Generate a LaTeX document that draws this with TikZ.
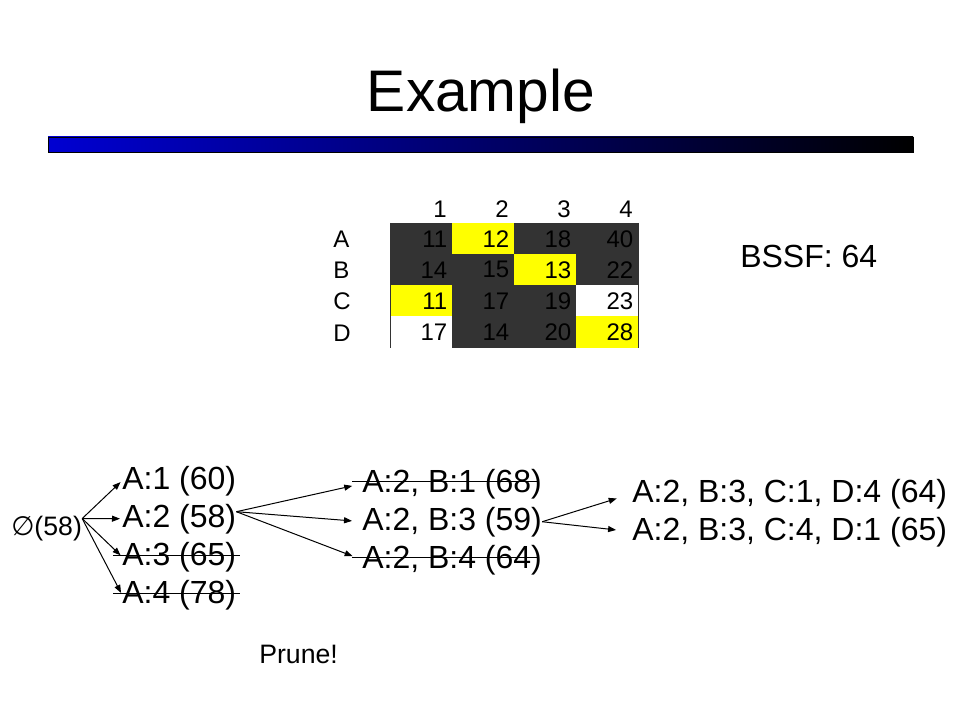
\documentclass[tikz,border=0pt]{standalone}
\usepackage{fontspec}
\setmainfont{Liberation Sans}
\newfontfamily\symbolfont{DejaVu Sans}
\usetikzlibrary{arrows.meta}
\definecolor{celldark}{RGB}{51,51,51}
\definecolor{cellyellow}{RGB}{255,255,0}
\definecolor{barblue}{RGB}{0,0,210}
\definecolor{barmid}{RGB}{0,0,135}

\begin{document}
\begin{tikzpicture}[
	x=0.75pt,
	y=-0.75pt,
	font=\fontsize{24}{28}\selectfont,
	title/.style={anchor=base, inner sep=0pt, font=\fontsize{44}{52}\selectfont},
	tnode/.style={anchor=base west, inner sep=0pt},
	small/.style={tnode, font=\fontsize{20}{24}\selectfont},
	cell/.style={anchor=north west, minimum height=23.25pt, text width=39pt,
		inner xsep=3.75pt, inner ysep=0pt, align=right, line width=0.4pt,
		font=\fontsize{18}{21}\selectfont},
	head/.style={anchor=base east, inner sep=0pt, font=\fontsize{18}{21}\selectfont},
	rowlab/.style={anchor=base west, inner sep=0pt, font=\fontsize{18}{21}\selectfont},
	arr/.style={-{Triangle[length=6pt,width=4.5pt]}, line width=0.75pt},
	cut/.style={line width=0.75pt},
	]
\useasboundingbox (0,0) rectangle (960,720);
\node [title] (title) at (481,112) {Example};
\shade [left color=barblue, middle color=barmid, right color=black, draw=black, line width=0.5pt]
	(48,137) rectangle (913,152);
\foreach \c in {1,...,4}
	\node [head] (col\c) at ({385+62*\c},218) {\c};
\foreach \lab/\row [count=\r] in {
	A/{11/celldark,12/cellyellow,18/celldark,40/celldark},
	B/{14/celldark,15/celldark,13/cellyellow,22/celldark},
	C/{11/cellyellow,17/celldark,19/celldark,23/white},
	D/{17/white,14/celldark,20/celldark,28/cellyellow}}
{
	\node [rowlab] (lab\lab) at (333,{217+31*\r}) {\lab};
	\foreach \v/\col [count=\c] in \row
		\node [cell, fill=\col, draw=\col] (\lab\c) at ({328+62*\c},{192+31*\r}) {\v};
}
\draw [line width=0.5pt, celldark] (A1.north west) -- (D1.south west);
\draw [line width=0.5pt, celldark] (A4.north east) -- (D4.south east);
\node [tnode] (bssf) at (740,268) {BSSF: 64};
\node [small] (root) at (11,535) {{\symbolfont ∅}(58)};
\node [tnode] (a1) at (122,489) {A:1 (60)};
\node [tnode] (a2) at (122,527) {A:2 (58)};
\node [tnode] (a3) at (122,565) {A:3 (65)};
\node [tnode] (a4) at (122,603) {A:4 (78)};
\node [tnode] (b1) at (362,492) {A:2, B:1 (68)};
\node [tnode] (b3) at (362,530) {A:2, B:3 (59)};
\node [tnode] (b4) at (362,568) {A:2, B:4 (64)};
\node [tnode] (c1) at (632,502) {A:2, B:3, C:1, D:4 (64)};
\node [tnode] (c4) at (632,540) {A:2, B:3, C:4, D:1 (65)};
\node [small] (prune) at (259,663) {Prune!};
\foreach \n in {a1,a2,a3,a4}
	\draw [arr, shorten >=1.5pt] (root.15) -- (\n.west);
\foreach \n in {b1,b3,b4}
	\draw [arr, shorten >=7.5pt] (a2.7) -- (\n.west);
\foreach \n in {c1,c4}
	\draw [arr, shorten >=12pt] (b3.east) -- (\n.west);
\foreach \n in {a3,a4}
	\draw [cut] ([shift={(-9,-10)}]\n.base west) -- ([shift={(4,-10)}]\n.base east);
\foreach \n in {b1,b4}
	\draw [cut] ([shift={(-10,-11)}]\n.base west) -- ([shift={(-3,-11)}]\n.base east);
\end{tikzpicture}
\end{document}
